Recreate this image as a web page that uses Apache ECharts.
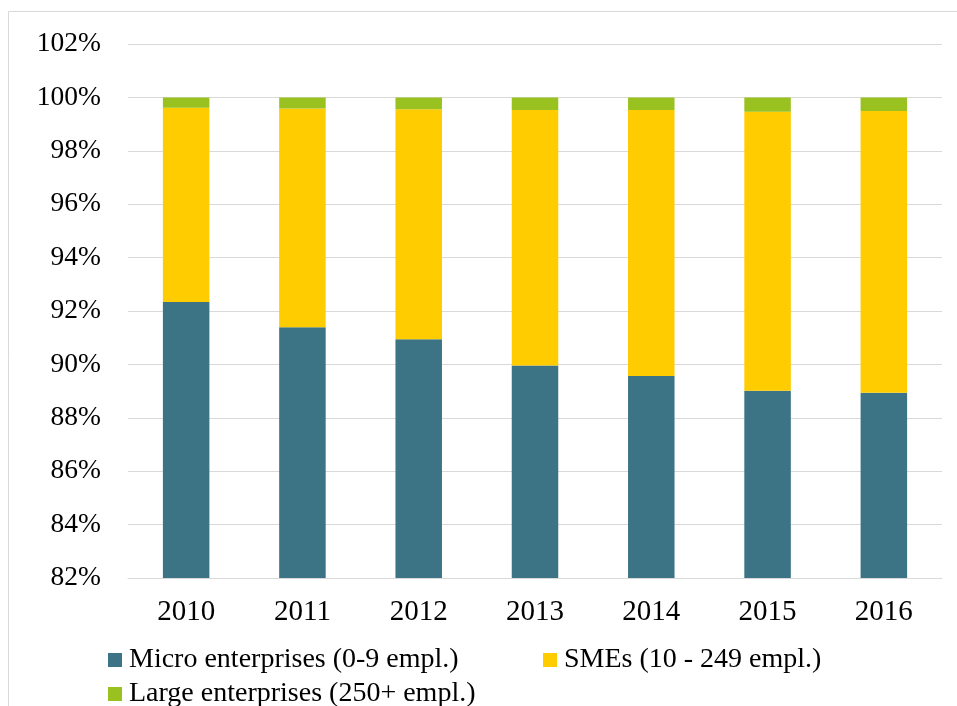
<!DOCTYPE html>
<html>
<head>
<meta charset="utf-8">
<script src="https://cdn.jsdelivr.net/npm/echarts@6/dist/echarts.min.js"></script>
<style>
  html, body { margin: 0; padding: 0; background: #fff; }
  #chart { width: 957px; height: 706px; }
</style>
</head>
<body>
<div id="chart"></div>
<script>
// 数据
var years = ['2010', '2011', '2012', '2013', '2014', '2015', '2016'];
var micro = [92.34, 91.39, 90.94, 89.96, 89.57, 89.01, 88.94];
var smes = [7.27, 8.19, 8.62, 9.57, 9.96, 10.45, 10.55];
var large = [0.39, 0.42, 0.44, 0.47, 0.47, 0.54, 0.51];
var yTicks = [82, 84, 86, 88, 90, 92, 94, 96, 98, 100, 102];

var names = ['Micro enterprises (0-9 empl.)', 'SMEs (10 - 249 empl.)', 'Large enterprises (250+ empl.)'];
var colors = ['#3d7485', '#ffcc00', '#99c221'];
var font = '"Liberation Serif", "DejaVu Serif", serif';

var myChart = echarts.init(document.getElementById('chart'));

var legendText = { fontFamily: font, fontSize: 28, color: '#000', padding: [0, 0, 0, 2] };

var option = {
    animation: false,
    color: colors,
    grid: { left: 128, right: 15, top: 44, bottom: 128 },
    graphic: [{
        type: 'rect',
        shape: { x: 8.5, y: 11.5, width: 960, height: 710 },
        style: { fill: 'none', stroke: '#d9d9d9', lineWidth: 1 }
    }],
    legend: [
        { data: [names[0]], left: 103, top: 641, icon: 'rect', itemWidth: 14, itemHeight: 14, textStyle: legendText },
        { data: [names[1]], left: 538, top: 641, icon: 'rect', itemWidth: 14, itemHeight: 14, textStyle: legendText },
        { data: [names[2]], left: 103, top: 675, icon: 'rect', itemWidth: 14, itemHeight: 14, textStyle: legendText }
    ],
    xAxis: {
        type: 'category',
        data: years,
        axisLine: { lineStyle: { color: '#d9d9d9', width: 1 } },
        axisTick: { show: false },
        axisLabel: { fontFamily: font, fontSize: 29, color: '#000', margin: 20 }
    },
    yAxis: {
        type: 'value',
        min: yTicks[0],
        max: yTicks[yTicks.length - 1],
        interval: 2,
        axisLine: { show: false },
        axisTick: { show: false },
        splitLine: { lineStyle: { color: '#d9d9d9', width: 1 } },
        axisLabel: {
            fontFamily: font, fontSize: 27.5, color: '#000', margin: 27,
            formatter: function (v) { return v + '%'; }
        }
    },
    series: [
        { name: names[0], type: 'bar', stack: 'all', barWidth: '40%', data: micro },
        { name: names[1], type: 'bar', stack: 'all', barWidth: '40%', data: smes },
        { name: names[2], type: 'bar', stack: 'all', barWidth: '40%', data: large }
    ]
};

myChart.setOption(option);
</script>
</body>
</html>
